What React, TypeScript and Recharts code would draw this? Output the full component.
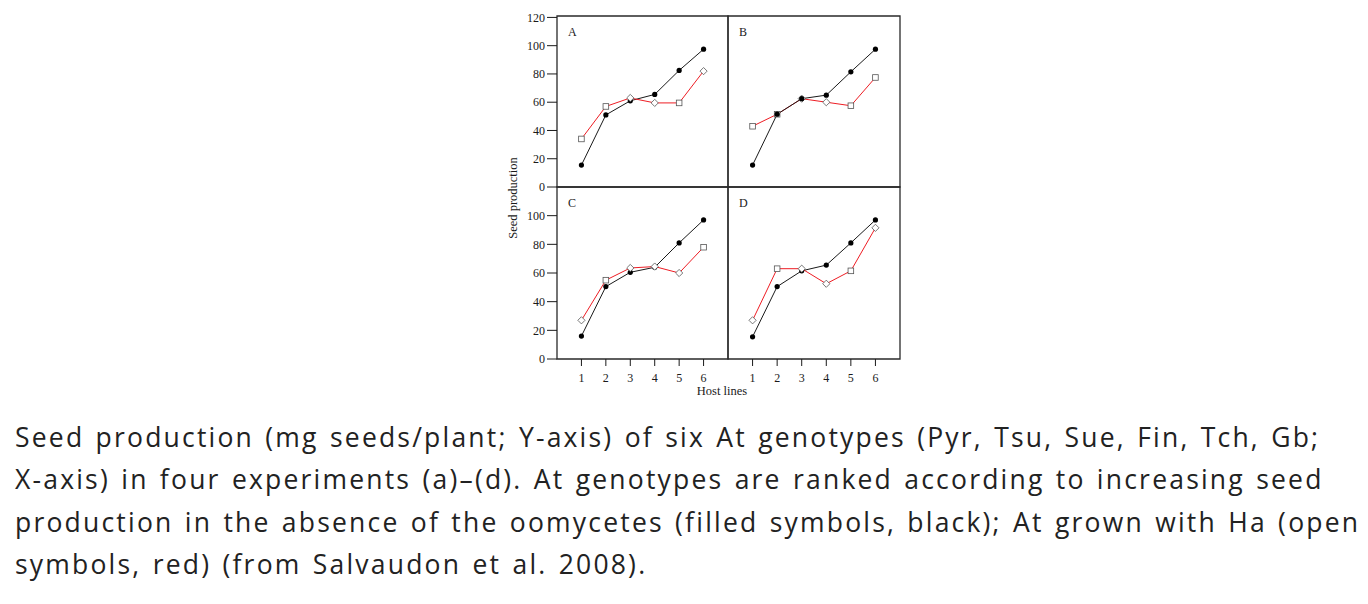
import React from "react";
import { LineChart, Line, XAxis, YAxis, ReferenceArea } from "recharts";

// host lines 1..6 (Pyr, Tsu, Sue, Fin, Tch, Gb)
const hostLines = [1, 2, 3, 4, 5, 6];
const yTicksTop = [0, 20, 40, 60, 80, 100, 120];
const yTicksBottom = [0, 20, 40, 60, 80, 100];

// seed production without oomycetes (filled, black)
const aloneA = [15.5, 51, 61, 65.5, 82.5, 97.5];
const aloneB = [15.5, 51.5, 62.5, 65, 81.5, 97.5];
const aloneC = [16, 50.5, 60.5, 64, 81, 97];
const aloneD = [15.5, 50.5, 61.5, 65.5, 81, 97];

// seed production grown with Ha (open, red)
const withHaA = [34, 57, 63, 59.5, 59.5, 82];
const withHaB = [43, 51.5, 62.5, 60, 57.5, 77.5];
const withHaC = [27, 55, 63.5, 64.5, 60, 78];
const withHaD = [27, 63, 63, 52.5, 61.5, 91.5];

// open symbol kind per point
const symbolsA = ["square", "square", "diamond", "diamond", "square", "diamond"];
const symbolsB = ["square", "square", "diamond", "diamond", "square", "square"];
const symbolsC = ["diamond", "square", "diamond", "diamond", "diamond", "square"];
const symbolsD = ["diamond", "square", "diamond", "diamond", "square", "diamond"];

const SERIF = '"Liberation Serif", "Times New Roman", serif';
const RED = "#ee1d24";
const INK = "#1a1a1a";

const openDot = (symbols: string[]) => (p: any) => {
  const { cx, cy, index } = p;
  if (cx == null || cy == null) return <g key={index} />;
  if (symbols[index] === "diamond") {
    const r = 3.6;
    return (
      <path
        key={index}
        d={`M${cx},${cy - r}L${cx + r},${cy}L${cx},${cy + r}L${cx - r},${cy}Z`}
        fill="#fff"
        stroke="#555"
        strokeWidth={0.8}
      />
    );
  }
  return (
    <rect key={index} x={cx - 2.8} y={cy - 2.8} width={5.6} height={5.6} fill="#fff" stroke="#555" strokeWidth={0.8} />
  );
};

const yTick = (p: any) => (
  <text x={p.x} y={p.y} dy="0.355em" textAnchor="end" fill={INK} fontSize={12} fontFamily={SERIF}>
    {p.payload.value}
  </text>
);

type PanelProps = {
  letter: string;
  alone: number[];
  withHa: number[];
  symbols: string[];
  left: number;
  top: number;
  width: number;
  height: number;
  margin: { top: number; right: number; bottom: number; left: number };
  yMax: number;
  yTicks?: number[];
  showX?: boolean;
  blackOnTop?: boolean;
};

function Panel(props: PanelProps) {
  const { letter, alone, withHa, symbols, left, top, width, height, margin, yMax, yTicks, showX, blackOnTop } = props;
  const rows = hostLines.map((x, i) => ({ x, alone: alone[i], withHa: withHa[i] }));

  const blackLine = (
    <Line
      key="alone"
      dataKey="alone"
      stroke={INK}
      strokeWidth={1}
      dot={{ r: 2.6, fill: "#000", stroke: "none" }}
      activeDot={false}
      isAnimationActive={false}
    />
  );
  const redLine = (
    <Line
      key="withHa"
      dataKey="withHa"
      stroke={RED}
      strokeWidth={1}
      dot={openDot(symbols)}
      activeDot={false}
      isAnimationActive={false}
    />
  );

  return (
    <div style={{ position: "absolute", left, top, fontFamily: SERIF }}>
      <LineChart width={width} height={height} data={rows} margin={margin}>
        <XAxis
          dataKey="x"
          type="number"
          domain={[0, 7]}
          ticks={hostLines}
          interval={0}
          hide={!showX}
          height={35}
          tickSize={7}
          tickMargin={7}
          axisLine={false}
          tickLine={{ stroke: INK }}
          tick={{ fill: INK, fontSize: 12, fontFamily: SERIF }}
        />
        <YAxis
          type="number"
          domain={[0, yMax]}
          ticks={yTicks}
          interval={0}
          hide={!yTicks}
          width={50}
          tickSize={10}
          tickMargin={2}
          axisLine={false}
          tickLine={{ stroke: INK }}
          tick={yTick}
        />
        <ReferenceArea
          x1={0}
          x2={7}
          y1={0}
          y2={yMax}
          fill="none"
          fillOpacity={0}
          stroke="#2a2a2a"
          strokeWidth={1.3}
          label={{ value: letter, position: "insideTopLeft", offset: 11, fill: INK, fontSize: 12, fontFamily: SERIF }}
        />
        {blackOnTop ? [redLine, blackLine] : [blackLine, redLine]}
      </LineChart>
    </div>
  );
}

export default function App() {
  return (
    <div style={{ position: "absolute", left: 0, top: 0, width: 1368, height: 604, background: "#fff" }}>
      <Panel
        letter="C"
        alone={aloneC}
        withHa={withHaC}
        symbols={symbolsC}
        left={507}
        top={182}
        width={226}
        height={212}
        margin={{ top: 5, right: 5, bottom: 0, left: 0 }}
        yMax={120}
        yTicks={yTicksBottom}
        showX
      />
      <Panel
        letter="D"
        alone={aloneD}
        withHa={withHaD}
        symbols={symbolsD}
        left={723}
        top={182}
        width={182}
        height={212}
        margin={{ top: 5, right: 5, bottom: 0, left: 5 }}
        yMax={120}
        showX
      />
      <Panel
        letter="A"
        alone={aloneA}
        withHa={withHaA}
        symbols={symbolsA}
        left={507}
        top={11}
        width={226}
        height={186}
        margin={{ top: 5, right: 5, bottom: 10, left: 0 }}
        yMax={121}
        yTicks={yTicksTop}
      />
      <Panel
        letter="B"
        alone={aloneB}
        withHa={withHaB}
        symbols={symbolsB}
        left={723}
        top={11}
        width={182}
        height={186}
        margin={{ top: 5, right: 5, bottom: 10, left: 5 }}
        yMax={121}
        blackOnTop
      />

      <div
        style={{
          position: "absolute",
          left: 513,
          top: 198,
          transform: "translate(-50%, -50%) rotate(-90deg)",
          whiteSpace: "nowrap",
          fontFamily: SERIF,
          fontSize: 12.5,
          color: INK,
        }}
      >
        Seed production
      </div>
      <div
        style={{
          position: "absolute",
          left: 722,
          top: 384,
          transform: "translateX(-50%)",
          whiteSpace: "nowrap",
          fontFamily: SERIF,
          fontSize: 12.5,
          lineHeight: "14px",
          color: INK,
        }}
      >
        Host lines
      </div>

      <div
        style={{
          position: "absolute",
          left: 15,
          top: 416,
          fontFamily: '"Open Sans", sans-serif',
          fontSize: 26.5,
          letterSpacing: 2.2,
          wordSpacing: 2.2,
          lineHeight: "42.3px",
          color: "#222",
          whiteSpace: "nowrap",
        }}
      >
        Seed production (mg seeds/plant; Y-axis) of six At genotypes (Pyr, Tsu, Sue, Fin, Tch, Gb;
        <br />
        X-axis) in four experiments (a)–(d). At genotypes are ranked according to increasing seed
        <br />
        production in the absence of the oomycetes (filled symbols, black); At grown with Ha (open
        <br />
        symbols, red) (from Salvaudon et al. 2008).
      </div>
    </div>
  );
}
